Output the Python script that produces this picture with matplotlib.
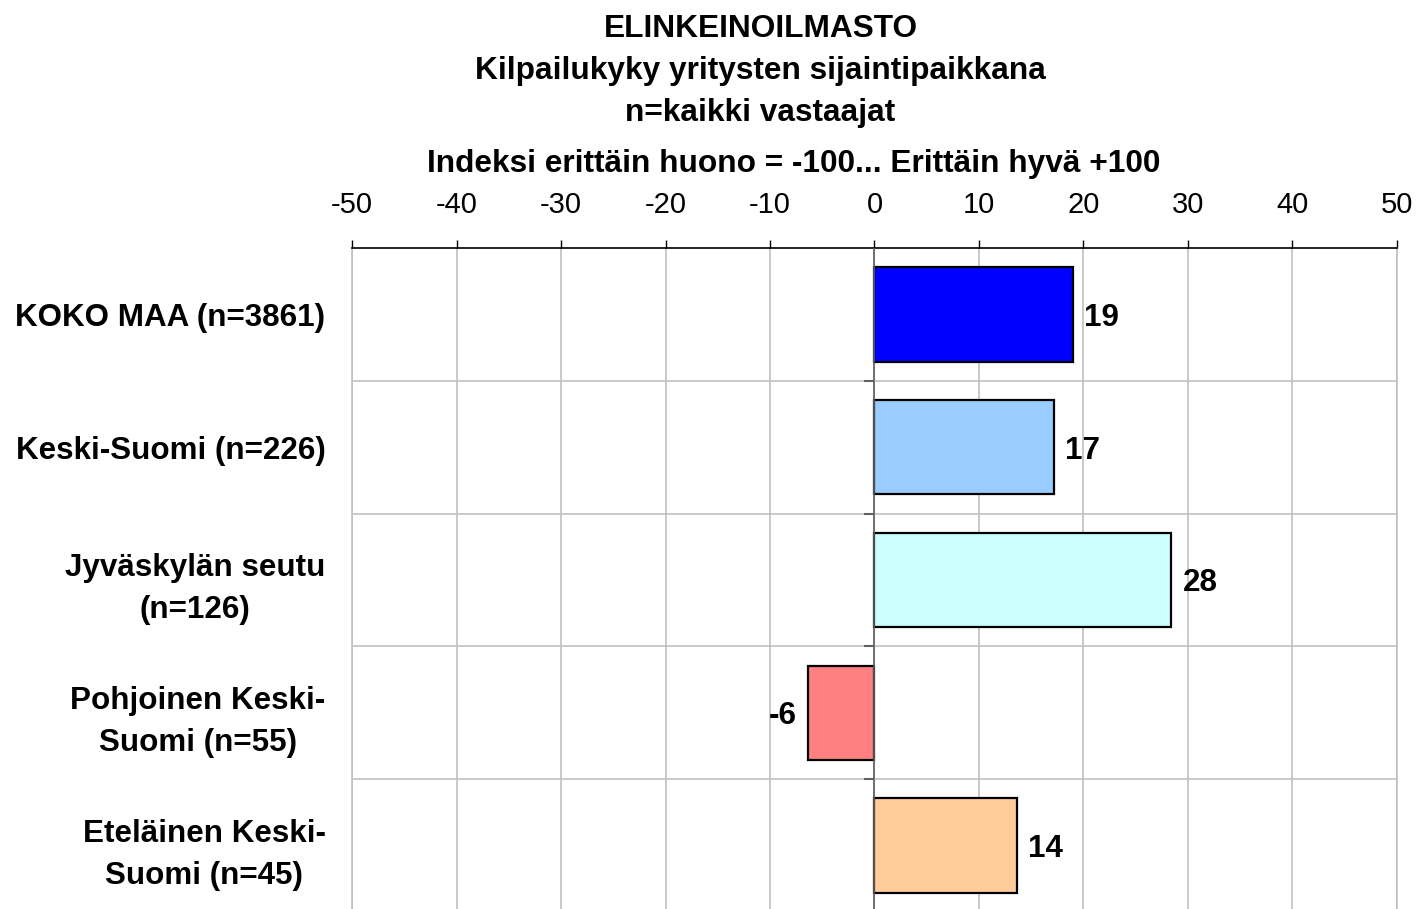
import matplotlib.pyplot as plt
import numpy as np

plt.rcParams["font.family"] = ["Liberation Sans", "DejaVu Sans"]

categories = [
    "KOKO MAA (n=3861)",
    "Keski-Suomi (n=226)",
    "Jyväskylän seutu\n(n=126)",
    "Pohjoinen Keski-\nSuomi (n=55)",
    "Eteläinen Keski-\nSuomi (n=45)",
]
values = [19.0, 17.2, 28.4, -6.4, 13.6]
colors = ["#0000FF", "#99CCFF", "#CCFFFF", "#FF8080", "#FFCC99"]
xticks = [-50, -40, -30, -20, -10, 0, 10, 20, 30, 40, 50]

W, H = 1418, 909
fig = plt.figure(figsize=(W / 100, H / 100), dpi=100)
ax = fig.add_axes([352 / W, 1 - 912 / H, (1397 - 352) / W, (912 - 248) / H])

y = np.arange(len(categories))
ax.barh(y, values, height=0.71, color=colors, edgecolor="black", linewidth=1.6, zorder=3)

ax.set_xlim(-50, 50)
ax.set_ylim(len(categories) - 0.5, -0.5)

# x axis on top
ax.xaxis.set_ticks_position("top")
ax.set_xticks(xticks)
ax.set_xticklabels([str(t) for t in xticks], fontsize=21)
ax.tick_params(axis="x", direction="out", length=6, width=1, color="black", pad=15)
ax.grid(axis="x", color="#c0c0c0", linewidth=1.2, zorder=0)

# category labels
ax.set_yticks(y)
ax.set_yticklabels(categories, fontsize=22.6, fontweight="bold")
for lbl in ax.get_yticklabels():
    lbl.set_multialignment("center")
    lbl.set_linespacing(1.5)
ax.tick_params(axis="y", length=0, pad=19)

# horizontal separators between categories
bounds = np.arange(len(categories) - 1) + 0.5
ax.set_yticks(bounds, minor=True)
ax.tick_params(axis="y", which="minor", length=0)
ax.grid(axis="y", which="minor", color="#c0c0c0", linewidth=1.2, zorder=0)

# zero line with small category ticks
ax.axvline(0, color="#606060", linewidth=1.2, zorder=4)
ax.hlines(bounds, -1.0, 0, color="#606060", linewidth=1.5, zorder=4)

for s in ["left", "right"]:
    ax.spines[s].set_color("#c0c0c0")
    ax.spines[s].set_linewidth(1.2)
ax.spines["bottom"].set_visible(False)
ax.spines["top"].set_color("black")
ax.spines["top"].set_linewidth(1.2)

for yi, v in zip(y, values):
    off = 8 if v >= 0 else -8
    ax.annotate(f"{round(v):d}", (v, yi), xytext=(off, 0), textcoords="offset points",
                ha="left" if v >= 0 else "right", va="center_baseline",
                fontsize=22.6, fontweight="bold", zorder=5)

title_lines = [
    ("ELINKEINOILMASTO", 761, 37),
    ("Kilpailukyky yritysten sijaintipaikkana", 760, 79),
    ("n=kaikki vastaajat", 760, 121),
    ("Indeksi erittäin huono = -100... Erittäin hyvä +100", 794, 172),
]
for txt, px, py in title_lines:
    fig.text(px / W, 1 - py / H, txt, ha="center", va="baseline",
             fontsize=22.8, fontweight="bold")

fig.savefig("out.png", dpi=100)
